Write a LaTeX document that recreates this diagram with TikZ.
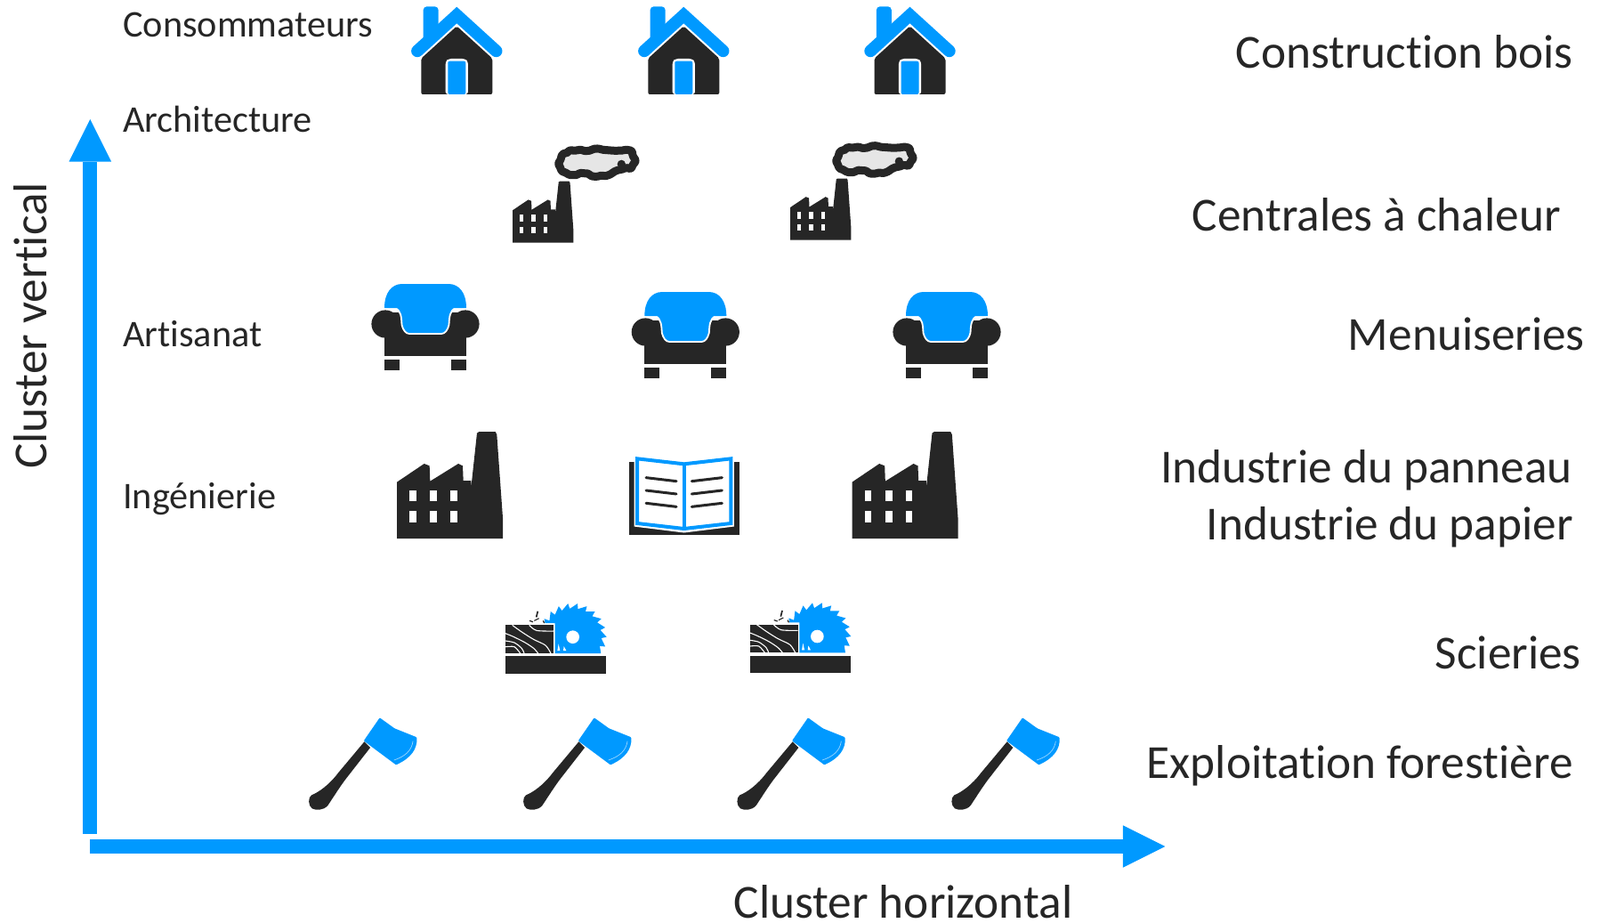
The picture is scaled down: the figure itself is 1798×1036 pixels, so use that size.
\documentclass[tikz,border=0pt]{standalone}
\usepackage{fontspec}
\setmainfont{Carlito}[Ligatures=NoCommon]
\usetikzlibrary{arrows.meta,decorations.pathmorphing}
\definecolor{iconblue}{HTML}{0099FF}
\definecolor{icondark}{HTML}{262626}
\definecolor{cloudgray}{HTML}{E6E6E6}
\tikzset{
  big/.style={font=\fontsize{53.3}{58}\selectfont,text=icondark,inner sep=0pt},
  small/.style={font=\fontsize{42.3}{46}\selectfont,text=icondark,inner sep=0pt},
  axisarrow/.style={draw=iconblue,line width=16pt,-{Triangle[length=47.5pt,width=47.5pt,line width=0pt,fill=iconblue]}},
  house/.pic={
    \begin{scope}[scale=1/3,shift={(-220,0)}]
      \fill[iconblue,rounded corners=4pt] (107,140) -- (107,22) -- (158,22) -- (158,90) -- cycle;
      \draw[iconblue,line width=13.7pt,line cap=round,line join=miter] (87,172) -- (220,51) -- (353,172);
      \fill[icondark,rounded corners=2pt] (220,88) -- (340,197) -- (340,318) -- (100,318) -- (100,197) -- cycle;
      \fill[white,rounded corners=3pt] (182,318) -- (182,208) -- (192,198) -- (248,198) -- (258,208) -- (258,318) -- cycle;
      \fill[iconblue,rounded corners=2pt] (190,318) -- (190,206) -- (250,206) -- (250,318) -- cycle;
    \end{scope}},
  factoryshape/.pic={
    \begin{scope}[scale=1/3,shift={(-108,-885)}]
      \fill[icondark] (108,695) -- (200,633) -- (218,640) -- (220,692) -- (315,633) -- (330,640) -- (332,690) -- (358,690) -- (358,715) -- (378,530) -- (385,525) -- (440,525) -- (445,535) -- (465,815) -- (465,885) -- (108,885) -- cycle;
      \foreach \wx in {150,220,288}
        \foreach \wy in {722,792}
          \fill[white] (\wx,\wy) rectangle ++(23,38);
    \end{scope}},
  smokeplant/.pic={
    \pic[scale=0.575] {factoryshape};
    \begin{scope}[scale=1/3,shift={(-408,-818)}]
      \draw[icondark,line width=9pt,fill=cloudgray,line join=round,rounded corners=1.5pt,decorate,decoration={random steps,segment length=6pt,amplitude=.7pt}] plot[smooth cycle,tension=.6] coordinates {(568,545) (585,520) (610,509) (645,510) (675,502) (715,505) (750,508) (785,503) (810,520) (815,550) (795,563) (770,570) (745,585) (715,590) (695,596) (660,585) (630,590) (595,585) (572,568)};
      \fill[icondark] (775,553) circle (14);
    \end{scope}},
  armchair/.pic={
    \fill[icondark] (-46,50) rectangle (46,81);
    \fill[icondark] (-36,32) rectangle (36,60);
    \fill[icondark] (-45,45) circle (15.6);
    \fill[icondark] (45,45) circle (15.6);
    \fill[icondark] (-46,85) rectangle (-29,97);
    \fill[icondark] (29,85) rectangle (46,97);
    \fill[white] (-47,27) rectangle (-34,29);
    \fill[white] (34,27) rectangle (47,29);
    \draw[white,line width=1.8pt,fill=iconblue] (-46,27) .. controls (-46,10) and (-38,0) .. (-26,0) -- (26,0) .. controls (38,0) and (46,10) .. (46,27) -- (34,27) .. controls (27,30) and (27,38) .. (26.5,46) .. controls (25,52) and (22,56) .. (18,56) -- (-18,56) .. controls (-22,56) and (-25,52) .. (-26.5,46) .. controls (-27,38) and (-27,30) .. (-34,27) -- cycle;
    \fill[iconblue] (-46,27) .. controls (-46,10) and (-38,0) .. (-26,0) -- (26,0) .. controls (38,0) and (46,10) .. (46,27) -- cycle;
  },
  sawmill/.pic={
    \begin{scope}[scale=1/3,shift={(-715,-290)}]
      \fill[icondark] (715,232) rectangle (1055,290);
      \fill[icondark] (715,127) rectangle (877,222);
      \begin{scope}
        \clip (715,127) rectangle (877,222);
        \draw[white,line width=1.1pt] plot[smooth] coordinates {(738,127) (770,150) (810,175) (850,195) (868,222)};
        \draw[white,line width=1.1pt] plot[smooth] coordinates {(715,155) (740,165) (780,185) (810,205) (825,222)};
        \draw[white,line width=1.1pt] plot[smooth] coordinates {(715,180) (745,186) (770,205) (778,222)};
        \draw[white,line width=1.1pt] plot[smooth] coordinates {(715,200) (745,200) (765,222)};
        \draw[white,line width=1.1pt] plot[smooth] coordinates {(795,127) (820,145) (877,147)};
      \end{scope}
      \begin{scope}
        \clip (840,30) -- (1070,30) -- (1070,222) -- (882,222) -- (882,120) -- (840,120) -- cycle;
        \fill[iconblue] plot[samples at={0,1,...,43},variable=\k] ({942+(mod(\k,2)==0 ? 114 : 96)*cos(\k*8.1818+(mod(\k,2)==0 ? 0 : -6))},{167+(mod(\k,2)==0 ? 114 : 96)*sin(\k*8.1818+(mod(\k,2)==0 ? 0 : -6))}) -- cycle;
      \end{scope}
      \fill[white] (942,167) circle (22);
      \fill[white] (890,213) -- (894,190) -- (899,213) -- cycle;
      \fill[white] (910,213) -- (912,198) -- (920,213) -- cycle;
      \draw[icondark,line width=1.7pt] (824,80) -- (819,100);
      \draw[icondark,line width=1.2pt] (796,112) -- (808,116);
      \draw[icondark,line width=1.2pt] (812,112) -- (828,104);
      \draw[icondark,line width=1.2pt] (842,112) -- (846,120);
    \end{scope}},
  axe/.pic={
    \begin{scope}[scale=1/3,shift={(-50,-750)}]
      \fill[icondark] (238,520) -- (150,625) .. controls (120,665) and (85,690) .. (60,700) .. controls (48,708) and (48,735) .. (62,745) .. controls (75,752) and (100,752) .. (115,735) .. controls (135,705) and (160,665) .. (180,640) -- (258,540) -- cycle;
      \fill[iconblue,rounded corners=1pt] (290,439) -- (340,475) -- (415,505) .. controls (417,545) and (395,575) .. (345,598) -- (236,517) -- cycle;
      \draw[white!60!iconblue,line width=.7pt] (402,518) .. controls (398,550) and (375,570) .. (338,582);
    \end{scope}},
}
\begin{document}
\begin{tikzpicture}[x=1pt,y=-1pt]
\useasboundingbox (0,0) rectangle (1798,1036);

% axes
\coordinate (vstart) at (101.3,936.7);
\coordinate (vend) at (101.3,134);
\coordinate (hstart) at (101,951);
\coordinate (hend) at (1309.3,951);
\draw[axisarrow] (vstart) -- (vend);
\draw[axisarrow] (hstart) -- (hend);

% houses
\pic at (513.3,0) {house};
\pic at (768.3,0) {house};
\pic at (1022.5,0) {house};

% plants with smoke
\pic at (576,272.7) {smokeplant};
\pic at (888,269.5) {smokeplant};

% armchairs
\pic at (478,319) {armchair};
\pic at (770.3,328) {armchair};
\pic at (1064,328) {armchair};

% factories
\pic at (446,605) {factoryshape};
\pic at (957.5,605) {factoryshape};

% book
\begin{scope}[shift={(768.7,310)},scale=1/3,shift={(-1076,0)}]
  \fill[icondark] (890,628) rectangle (1262,872);
  \draw[white,line width=5pt,fill=white,line join=miter] (915,610) -- (1076,628) -- (1237,610) -- (1237,838) -- (1076,858) -- (915,838) -- cycle;
  \draw[iconblue,line width=4pt,fill=white] (918,616) -- (1076,634) -- (1234,616) -- (1234,834) -- (1076,852) -- (918,834) -- cycle;
  \draw[iconblue,line width=4pt] (1076,634) -- (1076,852);
  \foreach \dy in {0,43,86}{
    \draw[icondark,line width=3pt,line cap=round] (948,{680+\dy}) -- (1050,{692+\dy});
    \draw[icondark,line width=3pt,line cap=round] (1102,{692+\dy}) -- (1204,{680+\dy});
  }
\end{scope}

% sawmills
\pic at (568,756.7) {sawmill};
\pic at (842.7,756) {sawmill};

% axes (tools)
\pic at (346.7,910) {axe};
\pic at (587.7,910) {axe};
\pic at (828,910) {axe};
\pic at (1069,910) {axe};

% left labels
\node[small,anchor=base west] (consommateurs) at (138,41.5) {Consommateurs};
\node[small,anchor=base west] (architecture) at (138,148.5) {Architecture};
\node[small,anchor=base west] (artisanat) at (138,389) {Artisanat};
\node[small,anchor=base west] (ingenierie) at (138,571) {Ingénierie};

% right labels
\node[big,anchor=base east] (construction) at (1768,76.5) {Construction bois};
\node[big,anchor=base east] (centrales) at (1754,259) {Centrales à chaleur};
\node[big,anchor=base east] (menuiseries) at (1781,393) {Menuiseries};
\node[big,anchor=base east] (panneau) at (1767,542) {Industrie du panneau};
\node[big,anchor=base east] (papier) at (1768,606.5) {Industrie du papier};
\node[big,anchor=base east] (scieries) at (1777,751) {Scieries};
\node[big,anchor=base east] (exploitation) at (1768,874) {Exploitation forestière};

% axis titles
\node[big,anchor=base] (horizontal) at (1015,1031) {Cluster horizontal};
\node[big,rotate=90,anchor=base] (vertical) at (52.5,366) {Cluster vertical};
\end{tikzpicture}
\end{document}
